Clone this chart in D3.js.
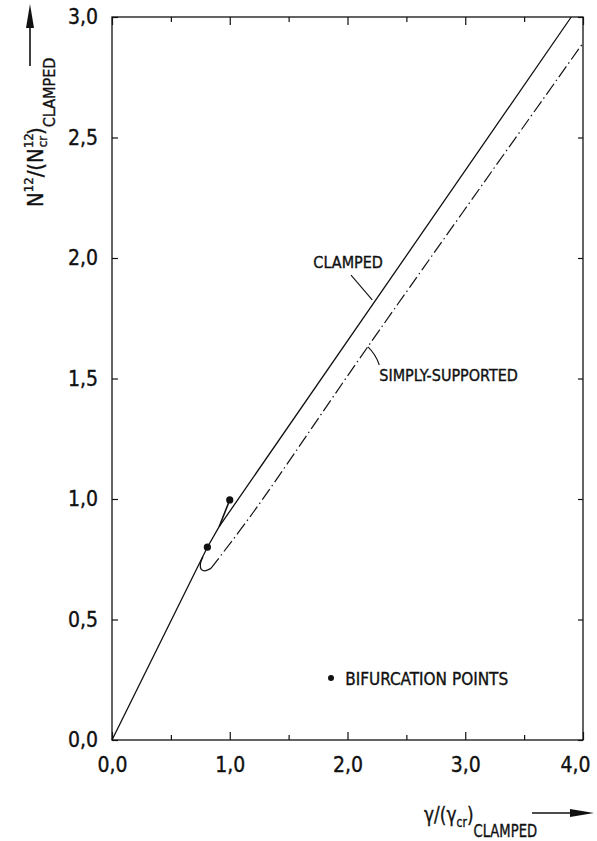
<!DOCTYPE html>
<html>
<head>
<meta charset="utf-8">
<script src="https://cdn.jsdelivr.net/npm/d3@7"></script>
<style>
  body { margin: 0; background: #fff; }
  svg { display: block; }
  text { font-family: "DejaVu Sans Condensed", "DejaVu Sans", sans-serif; fill: #111; stroke: #111; stroke-width: 0.35; }
</style>
</head>
<body>
<svg width="597" height="841"></svg>
<script>
// clamped plate: primary path, then the short branch up to the second bifurcation point
const clampedX = [0, 0.81, 0.91, 3.9];
const clampedY = [0, 0.80, 0.885, 3.0];
const branchX = [0.91, 1.0];
const branchY = [0.885, 0.996];

// simply supported: small solid hook, then dash-dot line
const hookX = [0.772, 0.75, 0.758, 0.79, 0.84];
const hookY = [0.76, 0.728, 0.708, 0.702, 0.712];
const simplyX = [0.84, 1.2, 2.17, 4.0];
const simplyY = [0.712, 0.945, 1.63, 2.892];

const bifX = [0.81, 1.0];
const bifY = [0.80, 0.996];

const xTicks = [0, 1, 2, 3, 4];
const xMinor = [0.5, 1.5, 2.5, 3.5];
const yTicks = [0, 0.5, 1, 1.5, 2, 2.5, 3];

const svg = d3.select("svg");

const x = d3.scaleLinear().domain([0, 4]).range([112, 583]);
const y = d3.scaleLinear().domain([0, 3]).range([740, 17]);

const fmt = d => d3.format(".1f")(d).replace(".", ",");

// frame
svg.append("rect")
    .attr("x", x(0)).attr("y", y(3))
    .attr("width", x(4) - x(0)).attr("height", y(0) - y(3))
    .attr("fill", "none").attr("stroke", "#111").attr("stroke-width", 1.3);

function styleAxis(g) {
  g.select(".domain").remove();
  g.selectAll(".tick line").attr("stroke", "#111").attr("stroke-width", 1.2);
  g.selectAll(".tick text").style("font-size", "21px")
      .style("font-family", "'DejaVu Sans Condensed', sans-serif")
      .attr("fill", "#111").attr("stroke", "#111").attr("stroke-width", 0.4);
}

svg.append("g").attr("transform", `translate(0,${y(0)})`)
    .call(d3.axisBottom(x).tickValues(xTicks).tickSize(-8).tickPadding(17).tickFormat(fmt))
    .call(styleAxis)
    .call(g => g.selectAll(".tick text").filter(d => d === 4).attr("dx", -8));
svg.append("g").attr("transform", `translate(0,${y(0)})`)
    .call(d3.axisBottom(x).tickValues(xMinor).tickSize(-5).tickFormat(""))
    .call(styleAxis);
svg.append("g").attr("transform", `translate(0,${y(3)})`)
    .call(d3.axisTop(x).tickValues(xTicks).tickSize(-8).tickFormat(""))
    .call(styleAxis);
svg.append("g").attr("transform", `translate(0,${y(3)})`)
    .call(d3.axisTop(x).tickValues(xMinor).tickSize(-5).tickFormat(""))
    .call(styleAxis);
svg.append("g").attr("transform", `translate(${x(0)},0)`)
    .call(d3.axisLeft(y).tickValues(yTicks).tickSize(-6).tickPadding(14).tickFormat(fmt))
    .call(styleAxis);
svg.append("g").attr("transform", `translate(${x(4)},0)`)
    .call(d3.axisRight(y).tickValues(yTicks).tickSize(-5).tickFormat(""))
    .call(styleAxis);

const line = d3.line().x(d => x(d[0])).y(d => y(d[1]));
const line2 = d3.line().x(d => x(d[0])).y(d => y(d[1])).curve(d3.curveCatmullRom);
const pts = (xs, ys) => xs.map((v, i) => [v, ys[i]]);

svg.append("path").attr("d", line(pts(clampedX, clampedY)))
    .attr("fill", "none").attr("stroke", "#111").attr("stroke-width", 1.3);
svg.append("path").attr("d", line(pts(branchX, branchY)))
    .attr("fill", "none").attr("stroke", "#111").attr("stroke-width", 1.6);
svg.append("path").attr("d", line2(pts(hookX, hookY)))
    .attr("fill", "none").attr("stroke", "#111").attr("stroke-width", 1.3);
svg.append("path").attr("d", line2(pts(simplyX, simplyY)))
    .attr("fill", "none").attr("stroke", "#111").attr("stroke-width", 1.2)
    .attr("stroke-dasharray", "13,3.5,1.5,3.5");

svg.selectAll(".bif").data(pts(bifX, bifY)).enter().append("circle")
    .attr("class", "bif")
    .attr("cx", d => x(d[0])).attr("cy", d => y(d[1])).attr("r", 3.6)
    .attr("fill", "#111");

// annotations
svg.append("text").attr("x", x(1.71)).attr("y", y(1.96))
    .style("font-size", "16px").text("CLAMPED");
svg.append("line")
    .attr("x1", x(2.03)).attr("y1", y(1.929)).attr("x2", x(2.21)).attr("y2", y(1.826))
    .attr("stroke", "#111").attr("stroke-width", 1.1);

svg.append("text").attr("x", x(2.27)).attr("y", y(1.49))
    .style("font-size", "16px").text("SIMPLY-SUPPORTED");
svg.append("path")
    .attr("d", `M${x(2.174)},${y(1.631)} Q${x(2.24)},${y(1.6)} ${x(2.27)},${y(1.556)}`)
    .attr("fill", "none").attr("stroke", "#111").attr("stroke-width", 1.1);

svg.append("circle").attr("cx", x(1.86)).attr("cy", y(0.257)).attr("r", 3)
    .attr("fill", "#111");
svg.append("text").attr("x", x(1.98)).attr("y", y(0.228))
    .style("font-size", "17px").text("BIFURCATION POINTS");

// y axis title
const yt = svg.append("text").attr("transform", "translate(43,207) rotate(-90)")
    .style("font-size", "22px");
yt.append("tspan").text("N");
yt.append("tspan").attr("dy", -10).style("font-size", "13px").text("12");
yt.append("tspan").attr("dy", 10).text("/(");
yt.append("tspan").text("N");
yt.append("tspan").attr("dy", -10).style("font-size", "13px").text("12");
yt.append("tspan").attr("dx", -14).attr("dy", 14).style("font-size", "13px").text("cr");
yt.append("tspan").attr("dy", -4).attr("dx", 1).text(")");
yt.append("tspan").attr("dy", 12).style("font-size", "16px").text("CLAMPED");

svg.append("line").attr("x1", 30).attr("y1", 66).attr("x2", 30).attr("y2", 20)
    .attr("stroke", "#111").attr("stroke-width", 1.6);
svg.append("path").attr("d", "M30,4 L26,28 L34,28 Z").attr("fill", "#111");

// x axis title (condensed horizontally like the lettering stencil)
const xt = svg.append("text").attr("transform", "translate(424,822) scale(0.86,1)")
    .style("font-size", "22px");
xt.append("tspan").text("γ/(γ");
xt.append("tspan").attr("dy", 5).style("font-size", "14px").text("cr");
xt.append("tspan").attr("dy", -5).text(")");
xt.append("tspan").attr("dy", 15).style("font-size", "17px").text("CLAMPED");

svg.append("line").attr("x1", 532).attr("y1", 813).attr("x2", 575).attr("y2", 813)
    .attr("stroke", "#111").attr("stroke-width", 1.6);
svg.append("path").attr("d", "M594,813 L570,809 L570,817 Z").attr("fill", "#111");
</script>
</body>
</html>
